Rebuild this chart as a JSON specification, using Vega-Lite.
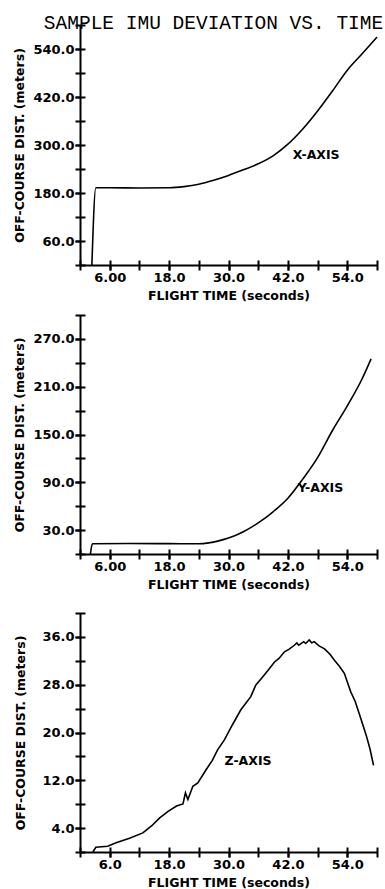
{
  "$schema": "https://vega.github.io/schema/vega-lite/v6.json",
  "background": "white",
  "padding": {"left": 13, "top": 12, "right": 5, "bottom": 1},
  "title": {"text": "SAMPLE IMU DEVIATION VS. TIME", "font": "Liberation Mono", "fontSize": 19.5, "fontWeight": "normal", "color": "black", "anchor": "end", "offset": -9, "dx": 3},
  "config": {
    "view": {"stroke": null},
    "axis": {
      "grid": false,
      "domainColor": "black", "domainWidth": 2,
      "tickColor": "black", "tickWidth": 2, "tickSize": 5,
      "labelFont": "DejaVu Sans", "labelFontWeight": "bold", "labelFontSize": 13, "labelColor": "black", "labelPadding": 1,
      "titleFont": "DejaVu Sans", "titleFontWeight": "bold", "titleFontSize": 12.5, "titleColor": "black"
    },
    "axisX": {"titlePadding": 5},
    "axisY": {"titlePadding": 6}
  },
  "spacing": 21,
  "vconcat": [
    {
      "spacing": 12,
      "vconcat": [
        {
          "width": 297, "height": 240,
          "resolve": {"axis": {"x": "independent", "y": "independent"}},
          "layer": [
            {
              "data": {"values": [
                {"t": 2.4, "v": 0}, {"t": 3.2, "v": 193}, {"t": 6, "v": 193}, {"t": 12, "v": 192.5}, {"t": 18, "v": 193},
                {"t": 21, "v": 196}, {"t": 24, "v": 202}, {"t": 27, "v": 212}, {"t": 30, "v": 224}, {"t": 33, "v": 238},
                {"t": 36, "v": 253}, {"t": 39, "v": 273}, {"t": 42, "v": 302}, {"t": 45, "v": 340}, {"t": 48, "v": 385},
                {"t": 51, "v": 435}, {"t": 54, "v": 487}, {"t": 57, "v": 528}, {"t": 60, "v": 570}
              ]},
              "mark": {"type": "line", "color": "black", "strokeWidth": 1.6, "interpolate": "monotone"},
              "encoding": {
                "x": {"field": "t", "type": "quantitative", "scale": {"domain": [0, 60], "nice": false, "zero": false},
                  "axis": {"orient": "bottom", "title": "FLIGHT TIME (seconds)", "values": [6, 18, 30, 42, 54], "format": ".3g"}},
                "y": {"field": "v", "type": "quantitative", "scale": {"domain": [0, 600], "nice": false},
                  "axis": {"orient": "left", "title": "OFF-COURSE DIST. (meters)", "values": [60, 180, 300, 420, 540], "format": ".1f"}}
              }
            },
            {
              "data": {"values": [{"t": 43, "v": 275, "label": "X-AXIS"}]},
              "mark": {"type": "text", "align": "left", "baseline": "middle", "font": "DejaVu Sans", "fontWeight": "bold", "fontSize": 12.5, "color": "black"},
              "encoding": {
                "x": {"field": "t", "type": "quantitative", "scale": {"domain": [0, 60], "nice": false, "zero": false},
                  "axis": {"orient": "bottom", "title": null, "labels": false, "domain": false, "tickSize": 10, "offset": -5, "values": [0, 6, 12, 18, 24, 30, 36, 42, 48, 54, 60]}},
                "y": {"field": "v", "type": "quantitative", "scale": {"domain": [0, 600], "nice": false},
                  "axis": {"orient": "left", "title": null, "labels": false, "domain": false, "tickSize": 10, "offset": -5, "values": [0, 60, 120, 180, 240, 300, 360, 420, 480, 540, 600]}},
                "text": {"field": "label"}
              }
            }
          ]
        },
        {
          "width": 297, "height": 239,
          "resolve": {"axis": {"x": "independent", "y": "independent"}},
          "layer": [
            {
              "data": {"values": [
                {"t": 2.1, "v": 0}, {"t": 2.5, "v": 12.8}, {"t": 10, "v": 13.2}, {"t": 18, "v": 13.0}, {"t": 24, "v": 12.8},
                {"t": 26, "v": 14}, {"t": 28, "v": 16.5}, {"t": 30, "v": 20}, {"t": 33, "v": 28}, {"t": 36, "v": 39},
                {"t": 39, "v": 53}, {"t": 42, "v": 70}, {"t": 45, "v": 94}, {"t": 48, "v": 121}, {"t": 51, "v": 155},
                {"t": 54, "v": 186}, {"t": 57, "v": 220}, {"t": 58.8, "v": 245}
              ]},
              "mark": {"type": "line", "color": "black", "strokeWidth": 1.6, "interpolate": "monotone"},
              "encoding": {
                "x": {"field": "t", "type": "quantitative", "scale": {"domain": [0, 60], "nice": false, "zero": false},
                  "axis": {"orient": "bottom", "title": "FLIGHT TIME (seconds)", "values": [6, 18, 30, 42, 54], "format": ".3g"}},
                "y": {"field": "v", "type": "quantitative", "scale": {"domain": [0, 300], "nice": false},
                  "axis": {"orient": "left", "title": "OFF-COURSE DIST. (meters)", "values": [30, 90, 150, 210, 270], "format": ".1f"}}
              }
            },
            {
              "data": {"values": [{"t": 44, "v": 82.5, "label": "Y-AXIS"}]},
              "mark": {"type": "text", "align": "left", "baseline": "middle", "font": "DejaVu Sans", "fontWeight": "bold", "fontSize": 12.5, "color": "black"},
              "encoding": {
                "x": {"field": "t", "type": "quantitative", "scale": {"domain": [0, 60], "nice": false, "zero": false},
                  "axis": {"orient": "bottom", "title": null, "labels": false, "domain": false, "tickSize": 10, "offset": -5, "values": [0, 6, 12, 18, 24, 30, 36, 42, 48, 54, 60]}},
                "y": {"field": "v", "type": "quantitative", "scale": {"domain": [0, 300], "nice": false},
                  "axis": {"orient": "left", "title": null, "labels": false, "domain": false, "tickSize": 10, "offset": -5, "values": [0, 30, 60, 90, 120, 150, 180, 210, 240, 270, 300]}},
                "text": {"field": "label"}
              }
            }
          ]
        }
      ]
    },
    {
      "width": 297, "height": 239,
      "resolve": {"axis": {"x": "independent", "y": "independent"}},
      "layer": [
        {
          "data": {"values": [
            {"t": 2.6, "v": 0}, {"t": 3.2, "v": 0.8}, {"t": 5.6, "v": 0.95}, {"t": 7.3, "v": 1.55}, {"t": 10, "v": 2.3},
            {"t": 12.7, "v": 3.2}, {"t": 14.5, "v": 4.4}, {"t": 16.1, "v": 5.7}, {"t": 17.8, "v": 6.8}, {"t": 19.5, "v": 7.7},
            {"t": 20.8, "v": 8.05}, {"t": 21.3, "v": 9.9}, {"t": 21.8, "v": 8.8}, {"t": 22.8, "v": 11}, {"t": 23.8, "v": 11.55},
            {"t": 25.5, "v": 13.8}, {"t": 26.7, "v": 15.3}, {"t": 27.8, "v": 17.1}, {"t": 29.2, "v": 18.8}, {"t": 30.8, "v": 21.3},
            {"t": 32.5, "v": 23.8}, {"t": 34.5, "v": 26}, {"t": 35.5, "v": 27.9}, {"t": 36.6, "v": 29}, {"t": 38, "v": 30.4},
            {"t": 39.3, "v": 31.8}, {"t": 40.2, "v": 32.4}, {"t": 41.3, "v": 33.5}, {"t": 42.2, "v": 33.9}, {"t": 43.3, "v": 34.6},
            {"t": 43.8, "v": 35.0}, {"t": 44.2, "v": 34.6}, {"t": 45.2, "v": 35.2}, {"t": 45.6, "v": 34.9}, {"t": 46.3, "v": 35.5},
            {"t": 46.8, "v": 35.0}, {"t": 47.3, "v": 35.2}, {"t": 48.3, "v": 34.5}, {"t": 49.4, "v": 34}, {"t": 50.5, "v": 33.1},
            {"t": 51.4, "v": 32.1}, {"t": 52.4, "v": 31.1}, {"t": 53.4, "v": 29.9}, {"t": 54.7, "v": 26.8}, {"t": 55.6, "v": 25.2},
            {"t": 56.4, "v": 23.2}, {"t": 57.8, "v": 19.6}, {"t": 58.6, "v": 17.2}, {"t": 59.3, "v": 14.5}
          ]},
          "mark": {"type": "line", "color": "black", "strokeWidth": 1.6},
          "encoding": {
            "x": {"field": "t", "type": "quantitative", "scale": {"domain": [0, 60], "nice": false, "zero": false},
              "axis": {"orient": "bottom", "title": "FLIGHT TIME (seconds)", "values": [6, 18, 30, 42, 54], "format": ".1f"}},
            "y": {"field": "v", "type": "quantitative", "scale": {"domain": [0, 40], "nice": false},
              "axis": {"orient": "left", "title": "OFF-COURSE DIST. (meters)", "values": [4, 12, 20, 28, 36], "format": ".1f", "titlePadding": 14}}
          }
        },
        {
          "data": {"values": [{"t": 29.2, "v": 15.2, "label": "Z-AXIS"}]},
          "mark": {"type": "text", "align": "left", "baseline": "middle", "font": "DejaVu Sans", "fontWeight": "bold", "fontSize": 12.5, "color": "black"},
          "encoding": {
            "x": {"field": "t", "type": "quantitative", "scale": {"domain": [0, 60], "nice": false, "zero": false},
              "axis": {"orient": "bottom", "title": null, "labels": false, "domain": false, "tickSize": 10, "offset": -5, "values": [0, 6, 12, 18, 24, 30, 36, 42, 48, 54, 60]}},
            "y": {"field": "v", "type": "quantitative", "scale": {"domain": [0, 40], "nice": false},
              "axis": {"orient": "left", "title": null, "labels": false, "domain": false, "tickSize": 10, "offset": -5, "values": [0, 4, 8, 12, 16, 20, 24, 28, 32, 36, 40]}},
            "text": {"field": "label"}
          }
        }
      ]
    }
  ]
}
